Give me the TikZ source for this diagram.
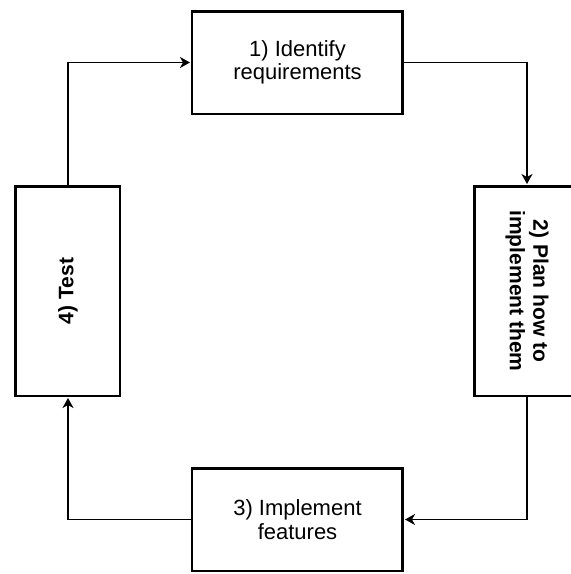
\documentclass[tikz,border=0pt]{standalone}
\usepackage{fontspec}
\setmainfont{Liberation Sans}
\usetikzlibrary{arrows, arrows.meta}
\tikzstyle{stage} = [rectangle, minimum width=210.5pt, minimum height=102.5pt, text centered, align=center, draw=black, line width=2.5pt, fill=white, font=\fontsize{22}{23.5}\selectfont]
\tikzstyle{sidestage} = [stage, minimum width=209.5pt, minimum height=104.5pt, font=\bfseries\fontsize{21}{23.5}\selectfont]
\tikzstyle{arrow} = [line width=1.5pt, -{Stealth[length=10pt, width=11pt, inset=3pt]}, shorten >=1pt]

\begin{document}
\begin{tikzpicture}[node distance=228.5pt]
\path [use as bounding box, fill=white] (-297.5pt,62.5pt) rectangle (273.5pt,-511.5pt);
\node (req) [stage] {1) Identify\\requirements};
\node (plan) [sidestage, below of=req, xshift=229.5pt, rotate=-90] {2) Plan how to\\implement them};
\node (test) [sidestage, below of=req, xshift=-229.5pt, rotate=90] {4) Test};
\node (impl) [stage, below of=plan, xshift=-229.5pt] {3) Implement\\features};

\draw [arrow] (test) |- (req);
\draw [arrow] (req) -| (plan);
\draw [arrow] (plan) |- (impl);
\draw [arrow] (impl) -| (test);
\end{tikzpicture}
\end{document}
